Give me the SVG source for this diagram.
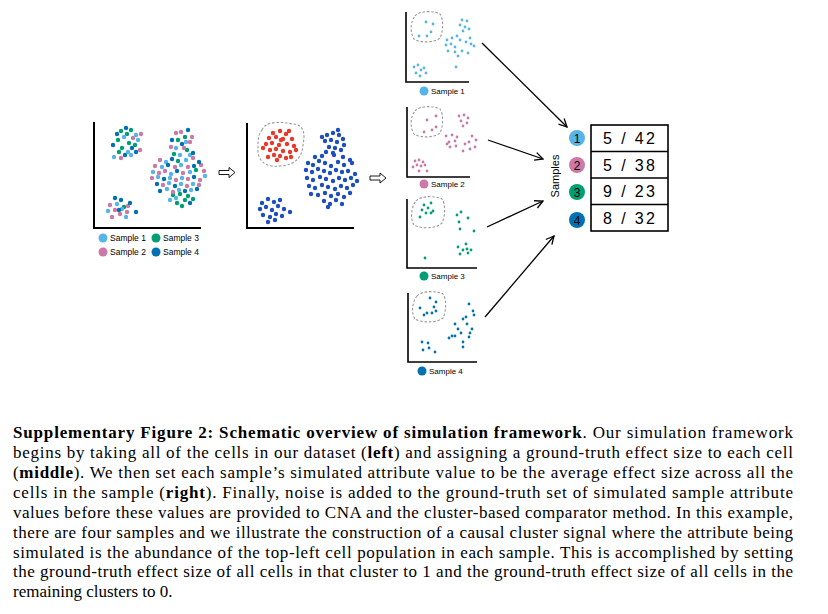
<svg xmlns="http://www.w3.org/2000/svg" width="828" height="614" viewBox="0 0 828 614">
<style>
.ax{stroke:#000;stroke-width:2;fill:none}
.sax{stroke:#000;stroke-width:1.6;fill:none}
.dash{stroke:#999;stroke-width:1.1;stroke-dasharray:2.5 1.8;fill:none}
.d{fill:none;stroke-linecap:round;stroke-width:4.4}
.ds{fill:none;stroke-linecap:round;stroke-width:2.8}
.c1{stroke:#56B4E9}.c2{stroke:#CC79A7}.c3{stroke:#009E73}.c4{stroke:#0072B2}.cr{stroke:#E8392B}.cb{stroke:#1E4FBF}
.f1{fill:#56B4E9}.f2{fill:#CC79A7}.f3{fill:#009E73}.f4{fill:#0072B2}
.lg{font-family:"Liberation Sans",Arial,sans-serif;font-size:8.5px;fill:#000}
.num{font-family:"Liberation Sans",Arial,sans-serif;font-size:16px;fill:#000}
.cn{font-family:"Liberation Sans",Arial,sans-serif;font-size:12px;fill:#000;text-anchor:middle}
.cap{font-family:"Liberation Serif","Times New Roman",serif;font-size:17px;fill:#000}
.b{font-weight:bold}
.conn{stroke:#000;stroke-width:1.3;fill:none}
</style>
<defs>
<marker id="ah" viewBox="0 0 10 10" refX="9" refY="5" markerWidth="10" markerHeight="10" markerUnits="userSpaceOnUse" orient="auto">
<path d="M1,1 L9,5 L1,9" stroke="#000" stroke-width="1.3" fill="none"/>
</marker>
</defs>

<g id="left-plot">
<path class="ax" d="M94,122 V228 H201"/>
<path class="d c3" d="M121,131h0M131,130h0M127,134h0M118,140h0M129,143h0M122,148h0M135,145h0M119,152h0M178,140h0M185,137h0M187,150h0M174,154h0M178,161h0M196,170h0M173,195h0M180,194h0M188,196h0M185,200h0M177,203h0M193,199h0M182,206h0M124,207h0"/>
<path class="d c1" d="M124,137h0M136,135h0M114,157h0M131,155h0M128,152h0M138,140h0M176,148h0M180,155h0M190,155h0M186,142h0M166,162h0M186,160h0M162,167h0M181,165h0M153,172h0M171,174h0M190,172h0M158,177h0M170,178h0M182,178h0M205,176h0M169,183h0M181,184h0M193,184h0M167,189h0M179,190h0M191,190h0M170,200h0M176,198h0M117,204h0M122,209h0M108,211h0M126,217h0"/>
<path class="d c2" d="M141,134h0M140,150h0M121,158h0M133,138h0M176,133h0M181,132h0M190,142h0M184,148h0M171,147h0M192,137h0M160,160h0M193,158h0M155,166h0M175,167h0M188,167h0M201,165h0M159,173h0M165,171h0M183,173h0M204,171h0M152,178h0M176,180h0M188,179h0M200,180h0M163,185h0M187,186h0M199,185h0M173,192h0M110,205h0M115,210h0M120,214h0M127,212h0M112,217h0M128,206h0"/>
<path class="d c4" d="M126,128h0M113,145h0M132,148h0M125,155h0M136,152h0M117,134h0M182,144h0M188,130h0M172,140h0M193,153h0M172,159h0M199,162h0M168,165h0M194,166h0M177,171h0M164,179h0M194,177h0M157,184h0M175,186h0M160,191h0M185,191h0M197,189h0M190,203h0M115,198h0M121,200h0M130,203h0M119,210h0M136,212h0"/>
<circle class="f1" cx="103" cy="238" r="4.5"/><text class="lg" x="110" y="241">Sample 1</text>
<circle class="f2" cx="103" cy="252" r="4.5"/><text class="lg" x="110" y="255">Sample 2</text>
<circle class="f3" cx="156" cy="238" r="4.5"/><text class="lg" x="163" y="241">Sample 3</text>
<circle class="f4" cx="156" cy="252" r="4.5"/><text class="lg" x="163" y="255">Sample 4</text>
</g>

<g id="middle-plot">
<path class="ax" d="M247,123 V228 H354"/>
<path class="dash" d="M262,130 C265,120 285,122 292,124 C305,124 305,135 303,145 C302,158 295,165 280,166 C265,168 257,160 258,148 C258,140 258,135 262,130 Z"/>
<path class="d cr" d="M273,133h0M280,131h0M286,134h0M269,138h0M276,137h0M283,139h0M292,139h0M266,144h0M272,143h0M279,145h0M287,144h0M294,146h0M270,150h0M276,149h0M283,151h0M290,152h0M296,150h0M274,155h0M280,156h0M286,158h0M268,157h0M281,140h0M277,160h0M291,157h0M263,148h0M289,131h0"/>
<path class="d cb" d="M327,135h0M333,133h0M339,135h0M343,139h0M325,141h0M331,140h0M337,142h0M344,145h0M329,147h0M335,148h0M341,150h0M326,152h0M333,153h0M322,137h0M338,130h0M315,157h0M322,156h0M334,155h0M343,157h0M350,160h0M308,163h0M313,165h0M319,161h0M325,163h0M331,166h0M338,162h0M344,165h0M352,163h0M306,170h0M312,172h0M318,169h0M324,171h0M330,173h0M336,170h0M342,172h0M348,171h0M355,174h0M307,178h0M313,180h0M320,177h0M326,179h0M333,181h0M339,178h0M345,180h0M351,178h0M357,181h0M309,186h0M315,188h0M322,185h0M328,187h0M335,189h0M341,186h0M347,188h0M353,185h0M311,194h0M318,195h0M325,193h0M331,196h0M338,194h0M344,197h0M350,193h0M324,201h0M330,204h0M336,200h0M342,204h0M328,207h0M262,203h0M268,199h0M274,202h0M280,200h0M260,209h0M266,207h0M272,210h0M278,206h0M284,209h0M263,215h0M270,217h0M276,214h0M282,216h0M290,212h0M268,222h0M275,220h0"/>
</g>

<g id="transition-arrows">
<path d="M219,170.5 H229 V167.5 L235,172.5 L229,177.5 V174.5 H219 Z" stroke="#000" stroke-width="0.9" fill="none"/>
<path d="M370,176 H380 V173 L386,178 L380,183 V180 H370 Z" stroke="#000" stroke-width="0.9" fill="none"/>
</g>

<g id="sample1-plot">
<path class="sax" d="M406,12 V82 H469"/>
<path class="dash" d="M415,16 C420,10 435,11 440,14 C444,20 443,32 440,38 C434,43 420,43 414,39 C410,33 410,22 415,16 Z"/>
<path class="ds c1" d="M426,22h0M433,24h0M431,32h0M419,36h0M427,36h0M462,20h0M467,21h0M460,25h0M465,27h0M469,29h0M463,31h0M447,40h0M452,38h0M457,36h0M446,45h0M451,44h0M455,47h0M460,40h0M466,42h0M471,44h0M474,46h0M448,51h0M455,52h0M462,51h0M468,53h0M458,56h0M470,38h0M456,67h0M414,67h0M418,65h0M421,70h0M416,73h0M424,68h0M420,76h0M426,73h0"/>
<circle class="f1" cx="424" cy="91" r="4.5"/><text class="lg" x="431" y="94" style="font-size:8px">Sample 1</text>
</g>

<g id="sample2-plot">
<path class="sax" d="M407,107 V177 H470"/>
<path class="dash" d="M415,111 C420,105 435,106 440,109 C444,115 443,127 440,133 C434,138 420,138 414,134 C410,128 410,117 415,111 Z"/>
<path class="ds c2" d="M427,120h0M436,116h0M436,127h0M432,130h0M424,132h0M459,116h0M464,115h0M468,118h0M461,121h0M467,123h0M463,126h0M446,136h0M452,135h0M457,137h0M449,142h0M455,141h0M450,147h0M456,146h0M465,144h0M469,142h0M472,136h0M476,140h0M463,151h0M470,149h0M475,147h0M447,144h0M415,161h0M419,160h0M423,162h0M417,165h0M421,166h0M425,165h0M419,171h0M427,171h0M413,167h0"/>
<circle class="f2" cx="424" cy="184" r="4.5"/><text class="lg" x="431" y="187" style="font-size:8px">Sample 2</text>
</g>

<g id="sample3-plot">
<path class="sax" d="M407,199 V268 H477"/>
<path class="dash" d="M416,201 C421,195 437,196 442,199 C446,205 445,217 442,223 C436,229 421,229 414,225 C410,219 411,207 416,201 Z"/>
<path class="ds c3" d="M424,205h0M431,203h0M428,208h0M422,210h0M426,213h0M431,213h0M420,217h0M433,211h0M457,215h0M461,212h0M468,218h0M459,222h0M474,231h0M460,229h0M458,247h0M466,244h0M463,250h0M467,249h0M471,250h0M468,253h0M460,254h0M425,258h0"/>
<circle class="f3" cx="424" cy="276" r="4.5"/><text class="lg" x="431" y="279" style="font-size:8px">Sample 3</text>
</g>

<g id="sample4-plot">
<path class="sax" d="M408,293 V362 H477"/>
<path class="dash" d="M417,296 C422,290 438,291 443,294 C447,300 446,312 443,318 C437,323 422,323 415,319 C411,313 412,302 417,296 Z"/>
<path class="ds c4" d="M430,298h0M436,302h0M434,307h0M420,308h0M436,311h0M427,313h0M432,313h0M424,315h0M469,304h0M473,311h0M474,315h0M466,317h0M463,319h0M467,324h0M455,324h0M458,329h0M472,329h0M461,333h0M470,333h0M452,336h0M455,336h0M449,338h0M469,337h0M463,342h0M463,347h0M422,342h0M428,343h0M423,350h0M429,348h0M435,352h0"/>
<circle class="f4" cx="422" cy="371" r="4.5"/><text class="lg" x="429" y="374" style="font-size:8px">Sample 4</text>
</g>

<g id="connectors">
<path class="conn" d="M482,43 L567,127" marker-end="url(#ah)"/>
<path class="conn" d="M488,140 L543,159" marker-end="url(#ah)"/>
<path class="conn" d="M487,227 L543,201" marker-end="url(#ah)"/>
<path class="conn" d="M485,317 L554,236" marker-end="url(#ah)"/>
</g>

<g id="samples-table">
<text x="556" y="176" transform="rotate(-90 556 176)" text-anchor="middle" dominant-baseline="middle" style="font-family:'Liberation Sans',Arial,sans-serif;font-size:11px">Samples</text>
<circle class="f1" cx="577" cy="138" r="8"/><text class="cn" x="577" y="142.5">1</text>
<circle class="f2" cx="577" cy="165" r="8"/><text class="cn" x="577" y="169.5">2</text>
<circle class="f3" cx="577" cy="192" r="8"/><text class="cn" x="577" y="196.5">3</text>
<circle class="f4" cx="577" cy="220" r="8"/><text class="cn" x="577" y="224.5">4</text>
<rect x="591" y="125" width="77" height="106" fill="none" stroke="#000" stroke-width="1.6"/>
<path d="M591,151.5 H668 M591,178 H668 M591,204.5 H668" stroke="#000" stroke-width="1.6"/>
<text class="num" x="603" y="144" textLength="52" lengthAdjust="spacing">5 / 42</text>
<text class="num" x="603" y="170.5" textLength="52" lengthAdjust="spacing">5 / 38</text>
<text class="num" x="603" y="197" textLength="52" lengthAdjust="spacing">9 / 23</text>
<text class="num" x="603" y="223.5" textLength="52" lengthAdjust="spacing">8 / 32</text>
</g>

<g id="caption">
<text class="cap" x="13" y="438" textLength="780" lengthAdjust="spacing"><tspan class="b">Supplementary Figure 2: Schematic overview of simulation framework</tspan>. Our simulation framework</text>
<text class="cap" x="13" y="458" textLength="780" lengthAdjust="spacing">begins by taking all of the cells in our dataset (<tspan class="b">left</tspan>) and assigning a ground-truth effect size to each cell</text>
<text class="cap" x="13" y="478" textLength="780" lengthAdjust="spacing">(<tspan class="b">middle</tspan>). We then set each sample’s simulated attribute value to be the average effect size across all the</text>
<text class="cap" x="13" y="498" textLength="780" lengthAdjust="spacing">cells in the sample (<tspan class="b">right</tspan>). Finally, noise is added to the ground-truth set of simulated sample attribute</text>
<text class="cap" x="13" y="517.5" textLength="780" lengthAdjust="spacing">values before these values are provided to CNA and the cluster-based comparator method. In this example,</text>
<text class="cap" x="13" y="537.5" textLength="780" lengthAdjust="spacing">there are four samples and we illustrate the construction of a causal cluster signal where the attribute being</text>
<text class="cap" x="13" y="557.5" textLength="780" lengthAdjust="spacing">simulated is the abundance of the top-left cell population in each sample. This is accomplished by setting</text>
<text class="cap" x="13" y="577" textLength="780" lengthAdjust="spacing">the ground-truth effect size of all cells in that cluster to 1 and the ground-truth effect size of all cells in the</text>
<text class="cap" x="13" y="597">remaining clusters to 0.</text>
</g>
</svg>
